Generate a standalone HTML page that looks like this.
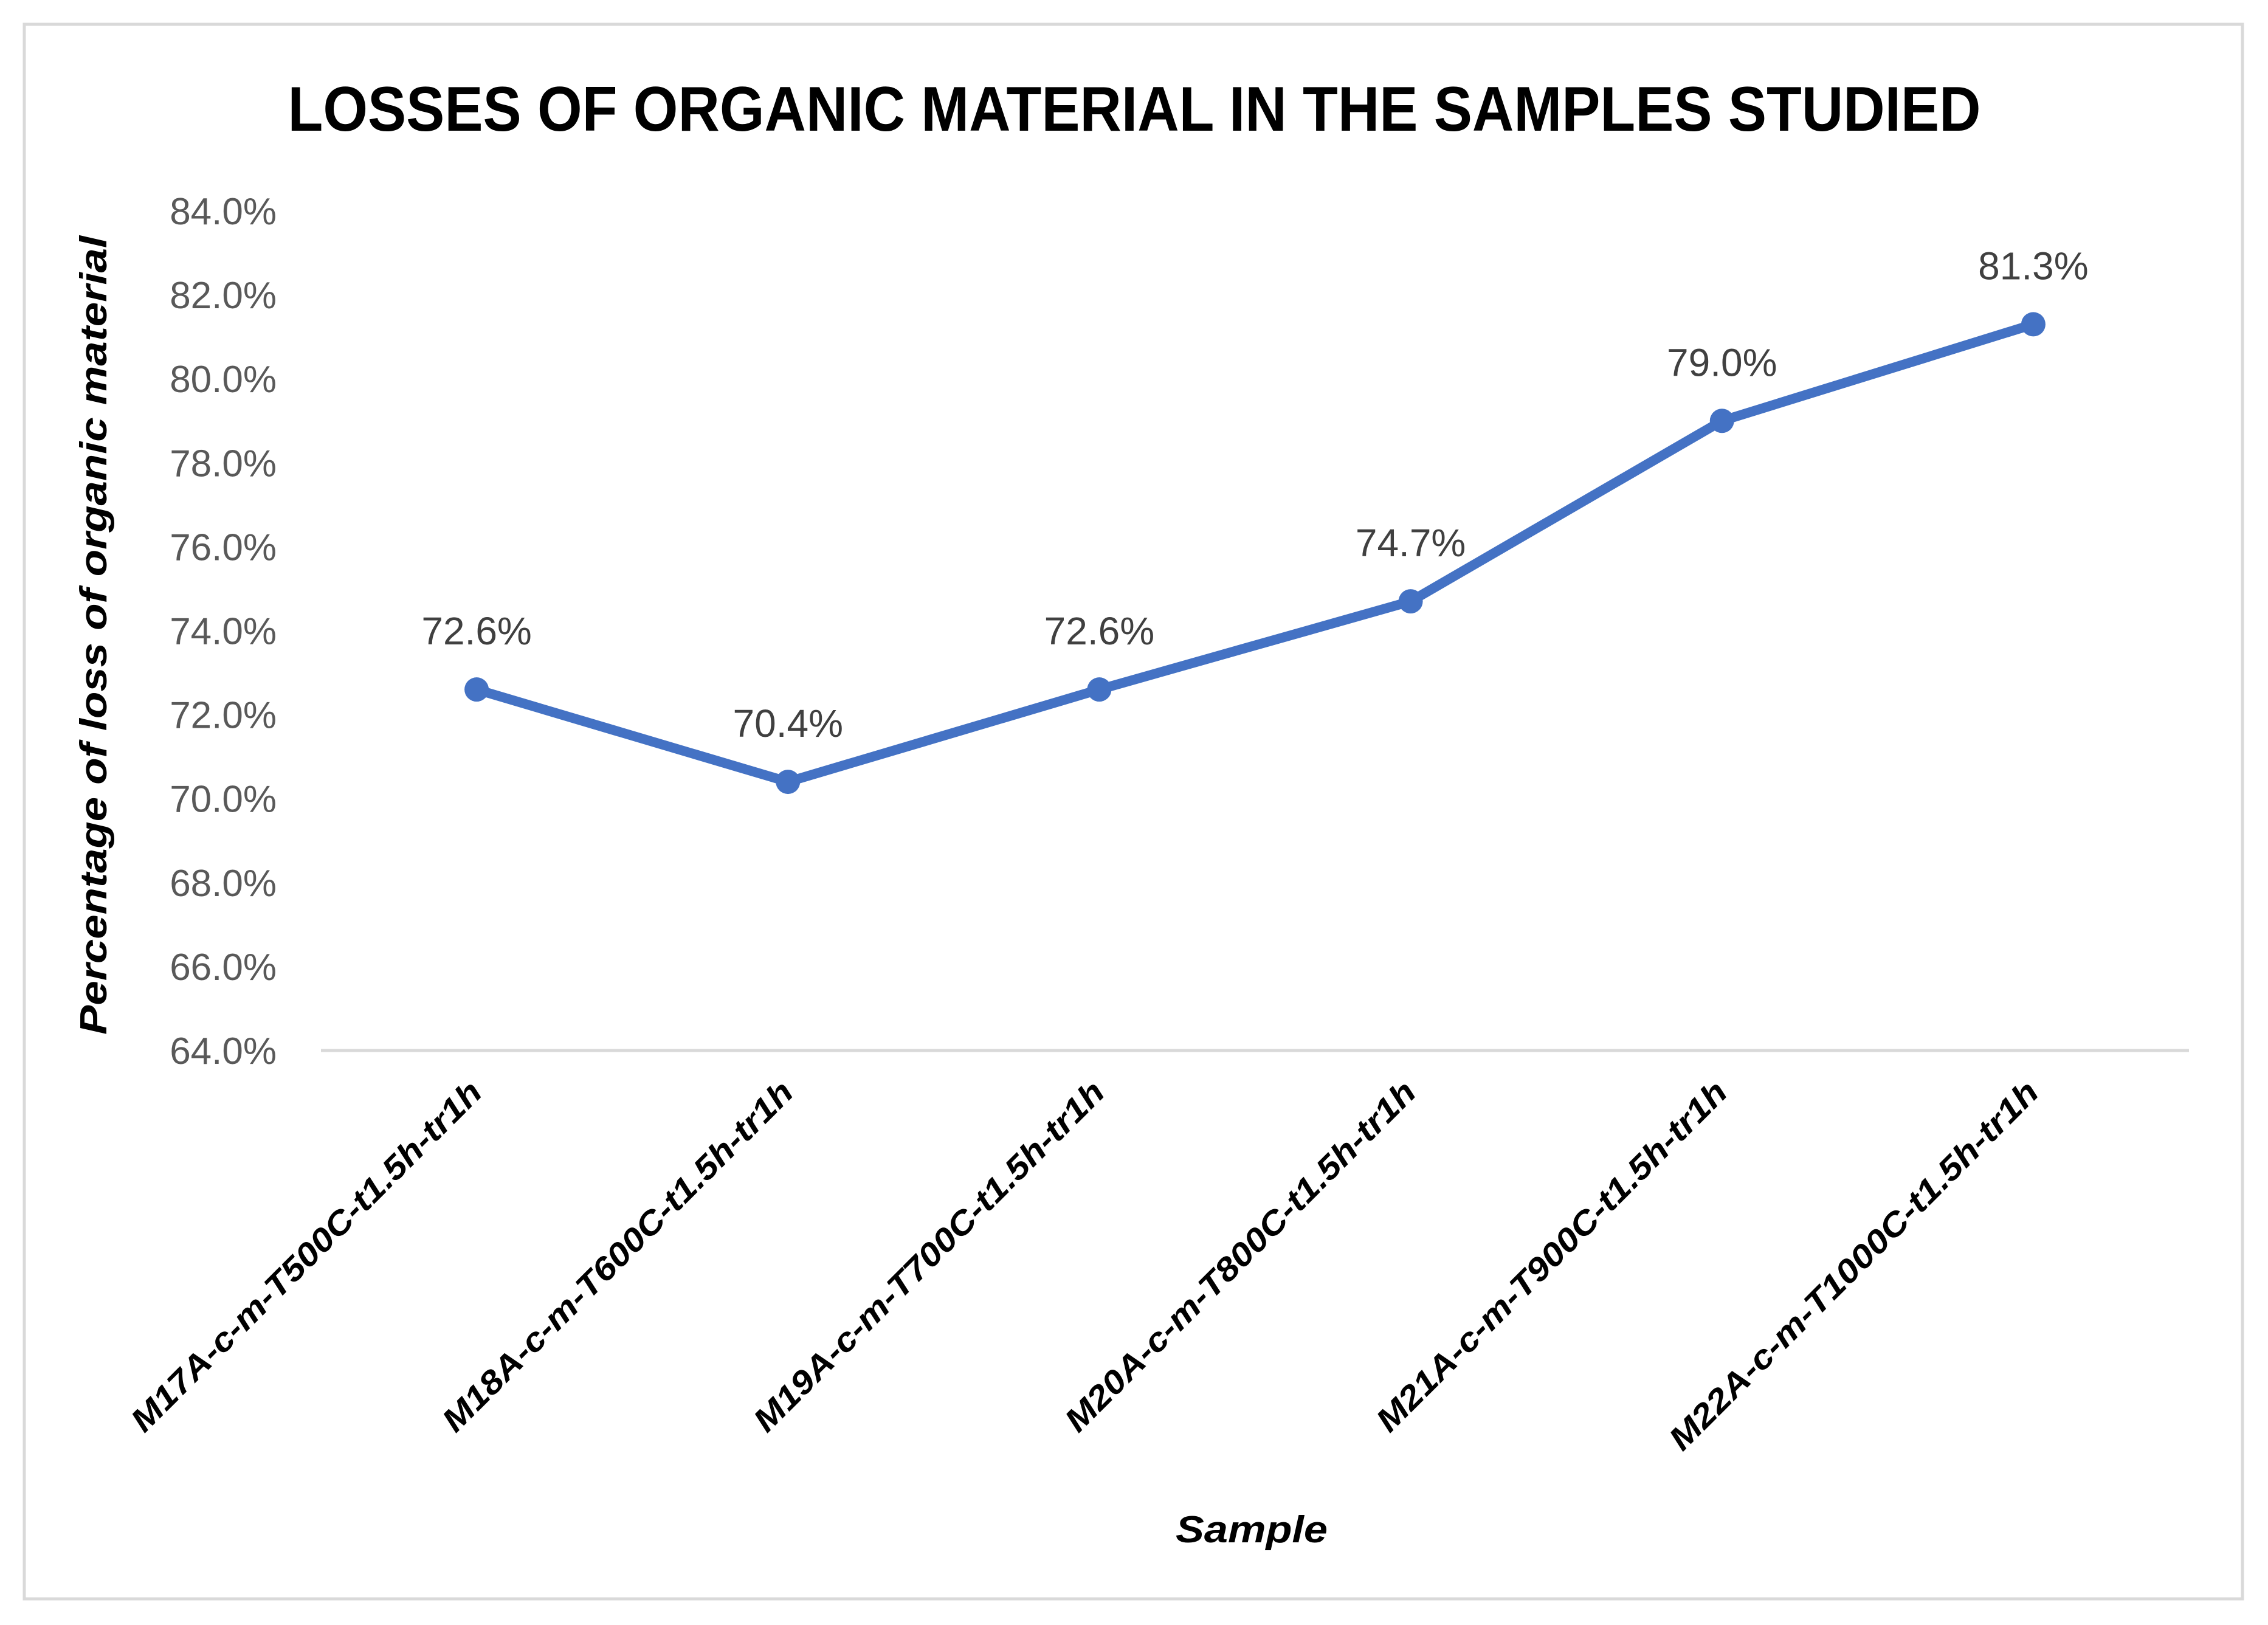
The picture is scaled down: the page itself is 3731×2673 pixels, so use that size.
<!DOCTYPE html>
<html><head><meta charset="utf-8"><style>
html,body{margin:0;padding:0;background:#fff;}
svg{display:block;}
</style></head><body>
<svg id="chart" width="3731" height="2673" viewBox="0 0 3731 2673" xmlns="http://www.w3.org/2000/svg">
<rect x="40" y="40" width="3649" height="2590" fill="#fff" stroke="#d9d9d9" stroke-width="5"/>
<text x="1866" y="215" text-anchor="middle" font-family="Liberation Sans, sans-serif" font-weight="bold" font-size="104" textLength="2785" lengthAdjust="spacingAndGlyphs" fill="#000">LOSSES OF ORGANIC MATERIAL IN THE SAMPLES STUDIED</text>
<text transform="translate(175,1045) rotate(-90)" text-anchor="middle" font-family="Liberation Sans, sans-serif" font-weight="bold" font-style="italic" font-size="62" textLength="1314" lengthAdjust="spacingAndGlyphs" fill="#000">Percentage of loss of organic material</text>
<text x="2059" y="2537" text-anchor="middle" font-family="Liberation Sans, sans-serif" font-weight="bold" font-style="italic" font-size="62" textLength="250" lengthAdjust="spacingAndGlyphs" fill="#000">Sample</text>
<g id="yticks"></g>
<g id="xlabels"></g>
<line x1="528" y1="1728" x2="3601" y2="1728" stroke="#d9d9d9" stroke-width="5"/>
<g id="series"></g>
<g id="labels"></g>
</svg>
<script>
const categories = ["M17A-c-m-T500C-t1.5h-tr1h","M18A-c-m-T600C-t1.5h-tr1h","M19A-c-m-T700C-t1.5h-tr1h","M20A-c-m-T800C-t1.5h-tr1h","M21A-c-m-T900C-t1.5h-tr1h","M22A-c-m-T1000C-t1.5h-tr1h"];
const values = [72.6, 70.4, 72.6, 74.7, 79.0, 81.3];
const valueLabels = ["72.6%","70.4%","72.6%","74.7%","79.0%","81.3%"];
const yTicks = [64,66,68,70,72,74,76,78,80,82,84];
const yTickLabels = ["64.0%","66.0%","68.0%","70.0%","72.0%","74.0%","76.0%","78.0%","80.0%","82.0%","84.0%"];

const NS = "http://www.w3.org/2000/svg";
const plotL = 528, plotR = 3601, plotB = 1728, plotT = 347;
const yMin = 64, yMax = 84;
function yScale(v){ return plotB - (v - yMin) / (yMax - yMin) * (plotB - plotT); }
function xScale(i){ const w = (plotR - plotL) / categories.length; return plotL + w * (i + 0.5); }
function mk(tag, attrs){ const e = document.createElementNS(NS, tag); for (const k in attrs) e.setAttribute(k, attrs[k]); return e; }

const yg = document.getElementById('yticks');
yTicks.forEach((t, i) => {
  const tx = mk('text', {x: 455, y: yScale(t) + 22, 'text-anchor': 'end', 'font-family': 'Liberation Sans, sans-serif', 'font-size': '62', fill: '#595959'});
  
  
  tx.textContent = yTickLabels[i];
  yg.appendChild(tx);
});

const xg = document.getElementById('xlabels');
categories.forEach((c, i) => {
  const x = xScale(i) + 12, y = 1800;
  const len = c.length > 25 ? 833 : 790;
  const tx = mk('text', {transform: `translate(${x},${y}) rotate(-45)`, 'text-anchor': 'end', 'font-family': 'Liberation Sans, sans-serif', 'font-weight': 'bold', 'font-style': 'italic', 'font-size': '54', fill: '#000', textLength: len, lengthAdjust: 'spacingAndGlyphs'});
  
  
  tx.textContent = c;
  xg.appendChild(tx);
});

const sg = document.getElementById('series');
const pts = values.map((v, i) => xScale(i) + ',' + yScale(v)).join(' ');
const pl = mk('polyline', {points: pts, fill: 'none', stroke: '#4472C4', 'stroke-width': '16', 'stroke-linejoin': 'round', 'stroke-linecap': 'round'});


sg.appendChild(pl);
values.forEach((v, i) => {
  const c = mk('circle', {cx: xScale(i), cy: yScale(v), r: 20, fill: '#4472C4'});
  
  
  sg.appendChild(c);
});

const lg = document.getElementById('labels');
values.forEach((v, i) => {
  const tx = mk('text', {x: xScale(i), y: yScale(v) - 74, 'text-anchor': 'middle', 'font-family': 'Liberation Sans, sans-serif', 'font-size': '64', fill: '#404040'});
  
  
  tx.textContent = valueLabels[i];
  lg.appendChild(tx);
});
</script>
</body></html>
